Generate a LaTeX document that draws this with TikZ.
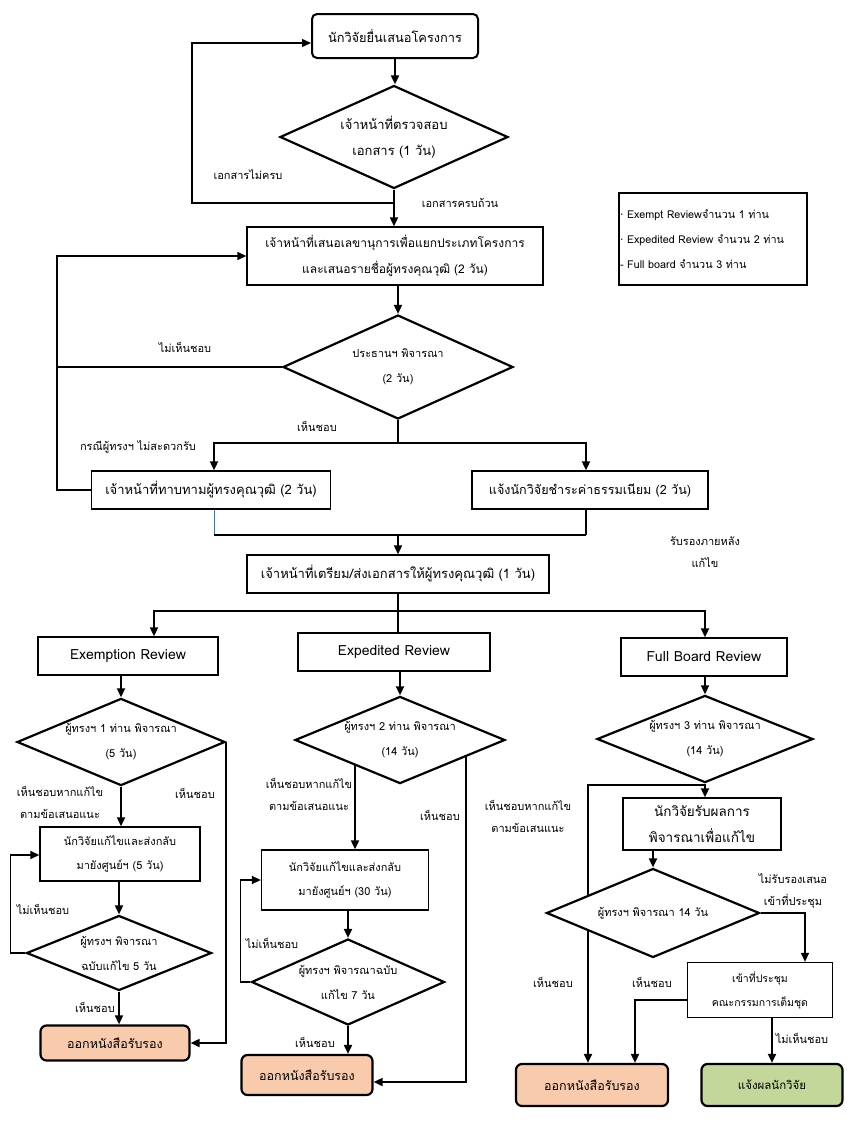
\documentclass[tikz,border=0pt]{standalone}
\usepackage{fontspec}
\setmainfont{Loma}[Script=Thai]
\newfontfamily\symfont{DejaVu Sans}
\usepackage{tikz}
\usetikzlibrary{arrows.meta,shapes.geometric,backgrounds}

\definecolor{certfill}{HTML}{F8CBAD}
\definecolor{resultfill}{HTML}{C4D79B}
\definecolor{wordblue}{HTML}{4472C4}

\begin{document}
\begin{tikzpicture}
	[
	x=1pt, y=-1pt,
	box/.style={
		draw,
		line width=1.3pt,
		fill=white,
		align=center,
		inner sep=1pt,
		font=\fontsize{12}{26}\selectfont
	},
	startbox/.style={
		box,
		rounded corners=5pt,
		line width=2pt
	},
	endbox/.style={
		box,
		rounded corners=6pt,
		line width=2.2pt,
		fill=certfill,
		font=\fontsize{12.5}{15}\selectfont
	},
	decision/.style={
		diamond,
		draw,
		line width=2.2pt,
		fill=white,
		aspect=2.2,
		inner sep=0pt,
		align=center,
		font=\fontsize{11}{25}\selectfont
	},
	tag/.style={
		align=center,
		inner sep=0pt,
		font=\fontsize{11}{22}\selectfont
	},
	arrow/.style={
		-{Triangle[length=9pt,width=8pt]},
		line width=1.8pt
	},
	plain/.style={
		line width=1.4pt
	}
	]
	\useasboundingbox (0,0) rectangle (858,1125);

	% Submission and document check
	\node[startbox, minimum width=166pt, minimum height=44pt, font=\fontsize{12.8}{15}\selectfont] (submit) at (395,36)
	{นักวิจัยยื่นเสนอโครงการ};

	\node[decision, minimum width=228pt, minimum height=103pt, font=\fontsize{13}{26}\selectfont] (check_docs) at (394,137)
	{เจ้าหน้าที่ตรวจสอบ\\เอกสาร (1 วัน)};

	\node[box, minimum width=296pt, minimum height=58pt] (propose) at (395,256)
	{เจ้าหน้าที่เสนอเลขานุการเพื่อแยกประเภทโครงการ\\และเสนอรายชื่อผู้ทรงคุณวุฒิ (2 วัน)};

	\node[decision, minimum width=230pt, minimum height=104pt] (chair) at (398,367)
	{ประธานฯ พิจารณา\\(2 วัน)};

	% Reviewers and fee
	\node[box, minimum width=239pt, minimum height=38pt, font=\fontsize{13}{15}\selectfont] (invite) at (211,490)
	{เจ้าหน้าที่ทาบทามผู้ทรงคุณวุฒิ (2 วัน)};

	\node[box, minimum width=236pt, minimum height=38pt, font=\fontsize{12.6}{15}\selectfont] (fee) at (590,490)
	{แจ้งนักวิจัยชำระค่าธรรมเนียม (2 วัน)};

	\node[box, minimum width=302pt, minimum height=38pt, font=\fontsize{13}{15}\selectfont] (prepare) at (398,574)
	{เจ้าหน้าที่เตรียม/ส่งเอกสารให้ผู้ทรงคุณวุฒิ (1 วัน)};

	% Reviewer count panel
	\node[box, align=left, text width=186pt, minimum height=92pt, line width=1.5pt,
		font=\fontsize{10.8}{25}\selectfont] (panel_info) at (713,239)
	{{\symfont ·} Exempt Reviewจำนวน 1 ท่าน\\{\symfont ·} Expedited Review จำนวน 2 ท่าน\\- Full board จำนวน 3 ท่าน};

	% Three review types
	\node[box, minimum width=180pt, minimum height=38pt, font=\fontsize{14}{16}\selectfont] (exempt) at (128,656)
	{Exemption Review};

	\node[box, minimum width=192pt, minimum height=38pt, font=\fontsize{14}{16}\selectfont] (expedited) at (394,652)
	{Expedited Review};

	\node[box, minimum width=166pt, minimum height=38pt, font=\fontsize{14}{16}\selectfont] (fullboard) at (704,657)
	{Full Board Review};

	% Exemption branch
	\node[decision, minimum width=208pt, minimum height=87pt] (ex_review) at (121,742)
	{ผู้ทรงฯ 1 ท่าน พิจารณา\\(5 วัน)};

	\node[box, minimum width=160pt, minimum height=54pt, font=\fontsize{11}{24}\selectfont] (ex_fix) at (120,854)
	{นักวิจัยแก้ไขและส่งกลับ\\มายังศูนย์ฯ (5 วัน)};

	\node[decision, minimum width=185pt, minimum height=75pt] (ex_recheck) at (119,953)
	{ผู้ทรงฯ พิจารณา\\ฉบับแก้ไข 5 วัน};

	\node[endbox, minimum width=149pt, minimum height=35pt] (ex_cert) at (115,1043)
	{ออกหนังสือรับรอง};

	% Expedited branch
	\node[decision, minimum width=210pt, minimum height=85pt] (xp_review) at (400,740)
	{ผู้ทรงฯ 2 ท่าน พิจารณา\\(14 วัน)};

	\node[box, minimum width=167pt, minimum height=60pt, font=\fontsize{11}{24}\selectfont] (xp_fix) at (345,880)
	{นักวิจัยแก้ไขและส่งกลับ\\มายังศูนย์ฯ (30 วัน)};

	\node[decision, minimum width=193pt, minimum height=86pt] (xp_recheck) at (348,982)
	{ผู้ทรงฯ พิจารณาฉบับ\\แก้ไข 7 วัน};

	\node[endbox, minimum width=131pt, minimum height=40pt] (xp_cert) at (307,1075)
	{ออกหนังสือรับรอง};

	% Full board branch
	\node[decision, minimum width=216pt, minimum height=85pt] (fb_review) at (705,739)
	{ผู้ทรงฯ 3 ท่าน พิจารณา\\(14 วัน)};

	\node[box, minimum width=158pt, minimum height=52pt, font=\fontsize{13.5}{26}\selectfont] (fb_fix) at (702,824)
	{นักวิจัยรับผลการ\\พิจารณาเพื่อแก้ไข};

	\node[decision, minimum width=213pt, minimum height=89pt] (fb_recheck) at (653,913)
	{ผู้ทรงฯ พิจารณา 14 วัน};

	\node[box, minimum width=145pt, minimum height=55pt, font=\fontsize{10.5}{24}\selectfont] (meeting) at (760,990)
	{เข้าที่ประชุม\\คณะกรรมการเต็มชุด};

	\node[endbox, minimum width=152pt, minimum height=42pt] (fb_cert) at (592,1085)
	{ออกหนังสือรับรอง};

	\node[endbox, fill=resultfill, minimum width=141pt, minimum height=42pt, font=\fontsize{11.5}{15}\selectfont] (notify) at (772,1085)
	{แจ้งผลนักวิจัย};

	% Labels
	\node[tag] (lbl_incomplete) at (248,175) {เอกสารไม่ครบ};
	\node[tag] (lbl_complete) at (460,203) {เอกสารครบถ้วน};
	\node[tag] (lbl_chair_no) at (185,347) {ไม่เห็นชอบ};
	\node[tag] (lbl_chair_yes) at (317,426) {เห็นชอบ};
	\node[tag] (lbl_decline) at (138,447) {กรณีผู้ทรงฯ ไม่สะดวกรับ};
	\node[tag] (lbl_later) at (705,552) {รับรองภายหลัง\\แก้ไข};
	\node[tag] (lbl_ex_cond) at (60,802) {เห็นชอบหากแก้ไข\\ตามข้อเสนอแนะ};
	\node[tag] (lbl_ex_yes) at (195,793) {เห็นชอบ};
	\node[tag] (lbl_ex_no) at (43,909) {ไม่เห็นชอบ};
	\node[tag] (lbl_ex_yes2) at (95,1007) {เห็นชอบ};
	\node[tag] (lbl_xp_cond) at (309,794) {เห็นชอบหากแก้ไข\\ตามข้อเสนอแนะ};
	\node[tag] (lbl_xp_yes) at (440,815) {เห็นชอบ};
	\node[tag] (lbl_xp_no) at (272,943) {ไม่เห็นชอบ};
	\node[tag] (lbl_xp_yes2) at (315,1042) {เห็นชอบ};
	\node[tag] (lbl_fb_cond) at (528,816) {เห็นชอบหากแก้ไข\\ตามข้อเสนแนะ};
	\node[tag] (lbl_fb_meet) at (793,891) {ไม่รับรองเสนอ\\เข้าที่ประชุม};
	\node[tag] (lbl_fb_yes) at (553,982) {เห็นชอบ};
	\node[tag] (lbl_fb_yes2) at (652,982) {เห็นชอบ};
	\node[tag] (lbl_fb_no) at (802,1038) {ไม่เห็นชอบ};

	% Junction points
	\coordinate (docs_split) at (394,203);
	\coordinate (docs_back) at (192,203);
	\coordinate (chair_back) at (57,367);
	\coordinate (chair_split) at (398,443);
	\coordinate (merge) at (398,535);
	\coordinate (type_split) at (398,611);
	\coordinate (xp_left_drop) at (355,740);
	\coordinate (xp_right_drop) at (466,740);
	\coordinate (xp_right_turn) at (466,1082);
	\coordinate (fb_split) at (705,785);
	\coordinate (fb_left_turn) at (588,785);
	\coordinate (fb_meet_turn) at (635,1000);

	% Arrows: top part
	\draw[arrow] (submit.south) -- (submit.south |- check_docs.north);
	\draw[arrow] (check_docs.south) -- (check_docs.south |- propose.north);
	\draw[arrow, line width=1.4pt] (docs_split) -- (docs_back) |- ([yshift=-7pt]submit.west);
	\draw[arrow] (propose.south -| chair.north) -- (chair.north);
	\draw[plain] (chair.west) -- (chair_back);
	\draw[arrow, line width=1.4pt] (invite.west) -| (chair_back) |- (propose.west);

	\draw[plain] (chair.south) -- (chair_split);
	\draw[arrow] (chair_split) -| ([xshift=3pt]invite.north);
	\draw[arrow] (chair_split) -| ([xshift=-4pt]fee.north);

	\draw[wordblue, line width=1pt] ([xshift=3pt]invite.south) -- ([xshift=3pt]invite.south |- merge);
	\draw[plain] ([xshift=-4pt]fee.south) -- ([xshift=-4pt]fee.south |- merge);
	\draw[line width=1.8pt] ([xshift=3pt]invite.south |- merge) -- ([xshift=-4pt]fee.south |- merge);
	\draw[arrow] (merge) -- (prepare.north);

	\draw[plain] (prepare.south) -- (type_split);
	\draw[plain] (type_split) -- (type_split |- expedited.north);
	\draw[arrow] (type_split) -| ([xshift=26pt]exempt.north);
	\draw[arrow] (type_split) -| (fullboard.north -| fb_split);

	% Arrows: exemption
	\draw[arrow] (exempt.south -| ex_review.north) -- (ex_review.north);
	\draw[arrow] (ex_review.south) -- (ex_review.south |- ex_fix.north);
	\draw[arrow] (ex_fix.south -| ex_recheck.north) -- (ex_recheck.north);
	\draw[arrow, line width=1.4pt] (ex_recheck.west) -- ++(-15,0) |- ([yshift=-1pt]ex_fix.west);
	\draw[arrow] (ex_recheck.south) -- (ex_recheck.south |- ex_cert.north);
	\draw[arrow] (ex_review.east) -- (ex_review.east |- ex_cert.east) -- (ex_cert.east);

	% Arrows: expedited
	\draw[arrow] (expedited.south -| xp_review.north) -- (xp_review.north);
	\begin{scope}[on background layer]
		\draw[arrow] (xp_left_drop) -- (xp_left_drop |- xp_fix.north);
		\draw[arrow] (xp_right_drop) -- (xp_right_turn) -- (xp_right_turn -| xp_cert.east);
		\draw[arrow] (fb_split) -- (fb_left_turn) -- (fb_left_turn |- fb_cert.north);
	\end{scope}
	\draw[arrow] (xp_fix.south -| xp_recheck.north) -- (xp_recheck.north);
	\draw[arrow, line width=1.4pt] (xp_recheck.west) -- ++(-10,0) |- (xp_fix.west);
	\draw[arrow] (xp_recheck.south) -- (xp_recheck.south |- xp_cert.north);

	% Arrows: full board
	\draw[arrow] (fullboard.south -| fb_review.north) -- (fb_review.north);
	\draw[arrow] (fb_review.south) -- (fb_review.south |- fb_fix.north);
	\draw[arrow] (fb_fix.south -| fb_recheck.north) -- (fb_recheck.north);
	\draw[arrow, line width=1.4pt] (fb_recheck.east) -| ([xshift=45pt]meeting.north);
	\draw[arrow] (meeting.west |- fb_meet_turn) -- (fb_meet_turn) -- (fb_meet_turn |- fb_cert.north);
	\draw[arrow] (meeting.south -| notify.north) -- (notify.north);

\end{tikzpicture}
\end{document}
